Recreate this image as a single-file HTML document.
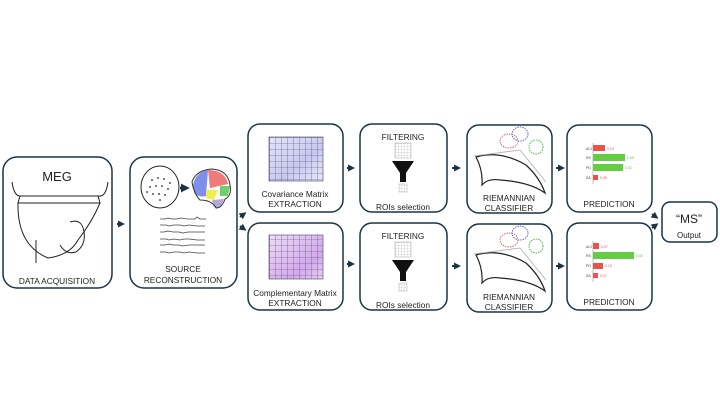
<!DOCTYPE html>
<html><head><meta charset="utf-8"><style>
html,body{margin:0;padding:0;background:#fff;}
svg{display:block;font-family:"Liberation Sans","DejaVu Sans",sans-serif;}
</style></head><body>
<svg width="720" height="405" viewBox="0 0 720 405" xmlns="http://www.w3.org/2000/svg">
<defs>
<marker id="a" markerWidth="3.5" markerHeight="3.5" refX="2" refY="1.75" orient="auto"><path d="M0,0L3.5,1.75L0,3.5z" fill="#1d3345"/></marker>
<linearGradient id="g1" x1="0" y1="0" x2="1" y2="1"><stop offset="0" stop-color="#e4e4f8"/><stop offset="0.6" stop-color="#c8c8f0"/><stop offset="1" stop-color="#e8e8fa"/></linearGradient>
<linearGradient id="g2" x1="0" y1="0" x2="1" y2="1"><stop offset="0" stop-color="#eedcf6"/><stop offset="0.7" stop-color="#d4a8ec"/><stop offset="1" stop-color="#e8d0f4"/></linearGradient>
<pattern id="grid" width="6" height="6" patternUnits="userSpaceOnUse"><path d="M6,0V6H0" fill="none" stroke="#444466" stroke-width="0.6"/></pattern>
<pattern id="gg" width="3" height="3" patternUnits="userSpaceOnUse"><path d="M3,0V3H0" fill="none" stroke="#999" stroke-width="0.4"/></pattern>
</defs>
<g fill="none" stroke="#1d3345" stroke-width="1.5">
<rect x="3" y="157" width="109" height="131" rx="14"/>
<rect x="130" y="157" width="107" height="131" rx="14"/>
<rect x="248" y="124" width="95" height="88" rx="12"/>
<rect x="248" y="223" width="95" height="87" rx="12"/>
<rect x="360" y="124" width="87" height="88" rx="12"/>
<rect x="360" y="223" width="87" height="87" rx="12"/>
<rect x="467" y="125" width="85" height="88" rx="12"/>
<rect x="467" y="224" width="85" height="88" rx="12"/>
<rect x="567" y="125" width="85" height="87" rx="12"/>
<rect x="567" y="223" width="85" height="87" rx="12"/>
<rect x="662" y="202" width="55" height="40" rx="8"/>
</g>
<g stroke="#1d3345" stroke-width="2" marker-end="url(#a)">
<line x1="117" y1="224" x2="122" y2="224"/>
<line x1="240" y1="217" x2="244" y2="214"/>
<line x1="240" y1="226" x2="244" y2="229"/>
<line x1="347" y1="168" x2="352" y2="168"/>
<line x1="347" y1="264" x2="352" y2="264"/>
<line x1="452" y1="168" x2="458" y2="168"/>
<line x1="452" y1="266" x2="458" y2="266"/>
<line x1="556" y1="168" x2="562" y2="168"/>
<line x1="556" y1="266" x2="562" y2="266"/>
<line x1="652" y1="214" x2="656" y2="217"/>
<line x1="652" y1="228" x2="656" y2="225"/>
</g>
<g fill="#222" text-anchor="middle" font-size="8.3">
<text x="57" y="181" font-size="13">MEG</text>
<text x="57" y="284">DATA ACQUISITION</text>
<text x="183" y="272">SOURCE</text>
<text x="183" y="283">RECONSTRUCTION</text>
<text x="295" y="197">Covariance Matrix</text>
<text x="295" y="207">EXTRACTION</text>
<text x="295" y="296">Complementary Matrix</text>
<text x="295" y="306">EXTRACTION</text>
<text x="403" y="140">FILTERING</text>
<text x="403" y="210">ROIs selection</text>
<text x="403" y="239">FILTERING</text>
<text x="403" y="308">ROIs selection</text>
<text x="509" y="201">RIEMANNIAN</text>
<text x="509" y="211">CLASSIFIER</text>
<text x="509" y="300">RIEMANNIAN</text>
<text x="509" y="310">CLASSIFIER</text>
<text x="609" y="207">PREDICTION</text>
<text x="609" y="305">PREDICTION</text>
<text x="689" y="223" font-size="12">“MS”</text>
<text x="689" y="238" font-size="8">Output</text>
</g>
<g fill="none" stroke="#222" stroke-width="1">
<path d="M12,182 Q14,196 20,196 L100,196 Q106,196 108,182"/>
<path d="M20,196 L18,203 L100,203 L98,196"/>
<path d="M18,203 Q17,245 48,258 Q70,255 78,240 Q92,222 100,203"/>
<path d="M70,222 Q82,218 84,232 Q86,245 76,252 Q66,255 60,245"/>
<path d="M36,240 L36,263"/>
</g>
<ellipse cx="160" cy="187" rx="19" ry="21" fill="none" stroke="#222"/>
<g fill="#222"><circle cx="152" cy="180" r="0.9"/><circle cx="158" cy="178" r="0.9"/><circle cx="164" cy="179" r="0.9"/><circle cx="170" cy="183" r="0.9"/><circle cx="150" cy="187" r="0.9"/><circle cx="156" cy="186" r="0.9"/><circle cx="162" cy="186" r="0.9"/><circle cx="168" cy="189" r="0.9"/><circle cx="153" cy="194" r="0.9"/><circle cx="159" cy="194" r="0.9"/><circle cx="165" cy="195" r="0.9"/><circle cx="160" cy="200" r="0.9"/><circle cx="147" cy="192" r="0.9"/></g>
<path d="M180,188 L186,188" stroke="#222" stroke-width="2.5" marker-end="url(#a)"/>
<path d="M193,185 Q196,172 208,170 L206,196 Q198,198 194,192Z" fill="#7f8ee8"/>
<path d="M208,170 Q225,170 228,184 L210,188Z" fill="#ee7a7a"/>
<path d="M206,190 L218,190 L214,200 L206,198Z" fill="#eeee50"/>
<path d="M220,186 L230,186 L228,196 L220,196Z" fill="#70d070"/>
<path d="M212,200 L224,199 L220,208 L214,207Z" fill="#b8a8d8"/>
<path d="M192,182 Q196,170 212,169 Q228,170 230,185 Q232,196 225,199 Q222,208 216,208 Q212,200 200,200 Q194,194 192,182 Z" fill="none" stroke="#333"/>
<g fill="none" stroke="#444" stroke-width="0.8">
<path d="M160,219 l5,0 l3,-1 l4,1 l5,0 l4,-1 l6,1 l8,0 l2,-2 l3,2 l6,0"/>
<path d="M160,225 l6,0 l3,1 l5,-1 l6,0 l4,1 l5,-1 l8,1 l8,0"/>
<path d="M160,232 l4,0 l4,-1 l5,1 l6,0 l4,1 l5,-1 l8,0 l9,0"/>
<path d="M160,239 l6,0 l3,1 l5,-1 l6,1 l4,-1 l5,0 l8,1 l8,0"/>
<path d="M160,245 l5,0 l4,-1 l4,1 l6,0 l4,1 l6,-1 l7,0 l9,0"/>
<path d="M160,252 l6,0 l3,1 l5,-1 l6,0 l4,1 l5,-1 l8,1 l8,0"/>
</g>
<rect x="269" y="137" width="54" height="44" fill="url(#g1)"/><rect x="269" y="137" width="54" height="44" fill="url(#grid)" stroke="#444466" stroke-width="0.6"/>
<rect x="269" y="235" width="54" height="44" fill="url(#g2)"/><rect x="269" y="235" width="54" height="44" fill="url(#grid)" stroke="#444466" stroke-width="0.6"/>
<g>
<rect x="395" y="143" width="16" height="15" fill="url(#gg)" stroke="#aaa" stroke-width="0.5"/>
<path d="M392,161 L414,161 L406,173 L406,182 L400,182 L400,173Z" fill="#111"/>
<rect x="399" y="184" width="8" height="8" fill="url(#gg)" stroke="#aaa" stroke-width="0.5"/>
<rect x="395" y="242" width="16" height="15" fill="url(#gg)" stroke="#aaa" stroke-width="0.5"/>
<path d="M392,260 L414,260 L406,272 L406,281 L400,281 L400,272Z" fill="#111"/>
<rect x="399" y="283" width="8" height="8" fill="url(#gg)" stroke="#aaa" stroke-width="0.5"/>
</g>
<g fill="none" stroke-width="0.8">
<path d="M476,157 Q500,150 526,165 Q540,178 545,193 Q530,182 500,180 Q488,178 482,185 Q483,170 476,157Z" stroke="#222" stroke-width="1.2"/>
<path d="M474,156 L520,150 L546,182" stroke="#aab"/>
<ellipse cx="509" cy="141" rx="9" ry="7" stroke="#c44" stroke-dasharray="1.5 1"/>
<ellipse cx="520" cy="134" rx="8" ry="7" stroke="#44c" stroke-dasharray="1.5 1"/>
<ellipse cx="536" cy="147" rx="7" ry="7" stroke="#2a2" stroke-dasharray="1.5 1"/>
<path d="M476,255 Q500,248 526,263 Q540,276 545,291 Q530,280 500,278 Q488,276 482,283 Q483,268 476,255Z" stroke="#222" stroke-width="1.2"/>
<path d="M474,254 L520,248 L546,280" stroke="#aab"/>
<ellipse cx="509" cy="240" rx="9" ry="7" stroke="#c44" stroke-dasharray="1.5 1"/>
<ellipse cx="520" cy="233" rx="8" ry="7" stroke="#44c" stroke-dasharray="1.5 1"/>
<ellipse cx="536" cy="246" rx="7" ry="7" stroke="#2a2" stroke-dasharray="1.5 1"/>
</g>
<g font-size="3.5" fill="#444">
<line x1="593" y1="143" x2="593" y2="184" stroke="#999" stroke-width="0.6"/>
<rect x="593" y="145" width="12" height="6" fill="#e8544c"/><text x="586" y="150">ACI</text><text x="607" y="150" fill="#e8544c">0.10</text>
<rect x="593" y="154" width="32" height="7" fill="#66cc44"/><text x="586" y="159">RS</text><text x="627" y="159" fill="#66cc44">0.55</text>
<rect x="593" y="164" width="30" height="7" fill="#66cc44"/><text x="586" y="169">PD</text><text x="625" y="169" fill="#66cc44">0.52</text>
<rect x="593" y="175" width="5" height="5" fill="#e8544c"/><text x="586" y="179">SA</text><text x="600" y="179" fill="#e8544c">0.05</text>
<line x1="593" y1="241" x2="593" y2="282" stroke="#999" stroke-width="0.6"/>
<rect x="593" y="243" width="6" height="6" fill="#e8544c"/><text x="586" y="248">ACI</text><text x="601" y="248" fill="#e8544c">0.07</text>
<rect x="593" y="252" width="41" height="7" fill="#66cc44"/><text x="586" y="257">RS</text><text x="636" y="257" fill="#66cc44">0.66</text>
<rect x="593" y="263" width="10" height="6" fill="#e8544c"/><text x="586" y="267">PD</text><text x="605" y="267" fill="#e8544c">0.15</text>
<rect x="593" y="273" width="5" height="5" fill="#e8544c"/><text x="586" y="277">SA</text><text x="600" y="277" fill="#e8544c">0.07</text>
</g>
</svg>
</body></html>
